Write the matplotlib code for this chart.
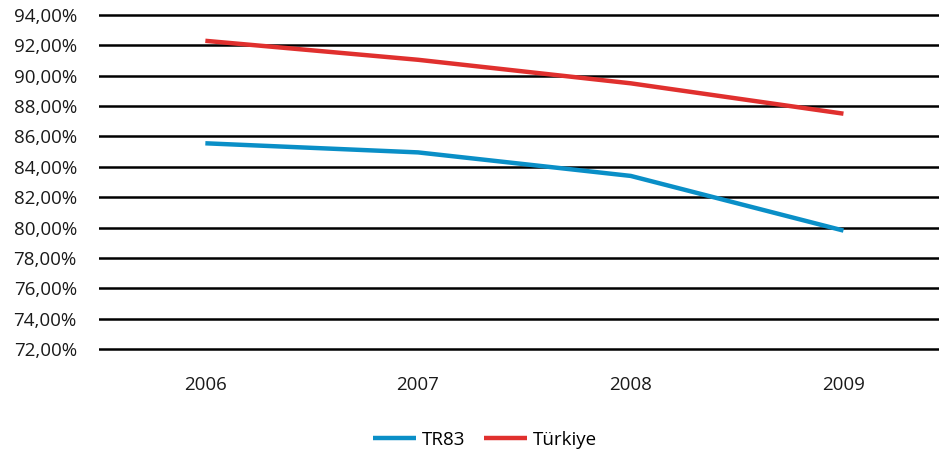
import matplotlib
matplotlib.use("Agg")
import matplotlib.pyplot as plt
from matplotlib.ticker import FuncFormatter

years = ["2006", "2007", "2008", "2009"]
tr83 = [85.55, 84.95, 83.4, 79.8]
turkiye = [92.3, 91.05, 89.5, 87.5]
yticks = [72, 74, 76, 78, 80, 82, 84, 86, 88, 90, 92, 94]

plt.rcParams['font.family'] = ['Open Sans', 'DejaVu Sans']

W, H = 939, 454
fig = plt.figure(figsize=(W/100, H/100), dpi=100)
top_px, bot_px = 15, 349
ppu = (bot_px - top_px) / 22.0
ext = 0.2
ax = fig.add_axes([99/W, (H-bot_px-ext*ppu)/H, 840/W, (bot_px-top_px+2*ext*ppu)/H])

x = list(range(len(years)))
ax.plot(x, tr83, color="#0A8FC7", lw=3.2, label="TR83", solid_capstyle="butt")
ax.plot(x, turkiye, color="#E0302E", lw=3.2, label="Türkiye", solid_capstyle="butt")

ax.set_ylim(72 - ext, 94 + ext)
ax.set_yticks(yticks)
ax.yaxis.set_major_formatter(FuncFormatter(lambda v, p: f"{v:.2f}%".replace(".", ",")))
ax.set_xlim(-0.5, -0.5 + 840/212.7)
ax.set_xticks(x)
ax.set_xticklabels(years)
ax.grid(axis="y", color="black", lw=1.8)
ax.set_axisbelow(True)
for s in ax.spines.values():
    s.set_visible(False)
ax.tick_params(axis="both", length=0, labelsize=13.5, colors="#1a1a1a")
ax.tick_params(axis="y", pad=16)
ax.tick_params(axis="x", pad=17)

fig.legend(loc="center", bbox_to_anchor=(485/W, 1-440/H), ncol=2, frameon=False,
           fontsize=13.5, handlelength=2.3, columnspacing=1.0, handletextpad=0.3)

fig.savefig("out.png", dpi=100)
